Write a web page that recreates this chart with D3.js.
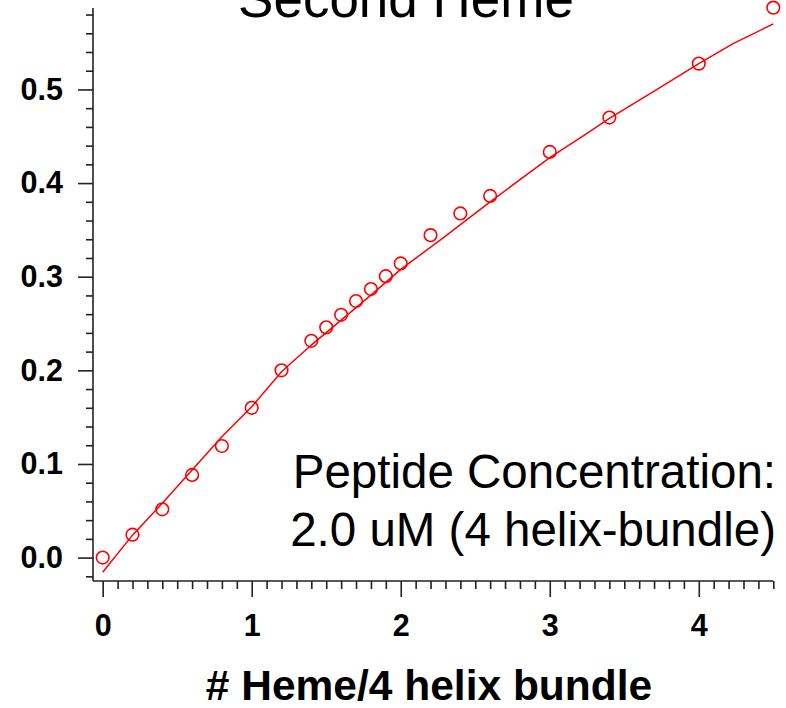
<!DOCTYPE html>
<html>
<head>
<meta charset="utf-8">
<script src="https://cdn.jsdelivr.net/npm/d3@7"></script>
<style>
  html, body { margin: 0; padding: 0; background: #fff; }
  svg { display: block; }
  text { font-family: "Liberation Sans", Arial, Helvetica, sans-serif; }
</style>
</head>
<body>
<svg id="chart" width="786" height="708"></svg>
<script>
// Heme titration: measured points
const hemeRatio = [0, 0.2, 0.4, 0.6, 0.8, 1.0, 1.2, 1.4, 1.5, 1.6, 1.7, 1.8, 1.9, 2.0, 2.2, 2.4, 2.6, 3.0, 3.4, 4.0, 4.5];
const signal    = [0.000, 0.0245, 0.0516, 0.0883, 0.1192, 0.160, 0.200, 0.2315, 0.2459, 0.2593, 0.274, 0.2868, 0.3006, 0.3142, 0.3444, 0.3676, 0.3863, 0.4333, 0.470, 0.5276, 0.5874];

// Fitted binding curve
const fitX = [0, 0.2, 0.4, 0.6, 0.8, 1.0, 1.2, 1.4, 1.6, 1.8, 2.0, 2.28, 2.6, 3.0, 3.24, 3.4, 3.72, 4.0, 4.23, 4.5];
const fitY = [-0.0156, 0.024, 0.058, 0.0936, 0.129, 0.161, 0.1985, 0.227, 0.2537, 0.2804, 0.3078, 0.341, 0.380, 0.4273, 0.452, 0.469, 0.500, 0.5276, 0.549, 0.570];

// Axis ticks
const xTickLabels = [0, 1, 2, 3, 4];
const yTickLabels = ["0.0", "0.1", "0.2", "0.3", "0.4", "0.5"];

const titleText = "Second Heme";
const noteLines = ["Peptide Concentration:", "2.0 uM (4 helix-bundle)"];
const xTitle = "# Heme/4 helix bundle";

const svg = d3.select("#chart");

const x = d3.scaleLinear().domain([-0.065, 4.5]).range([93, 773.3]);
const y = d3.scaleLinear().domain([-0.025, 0.587]).range([581, 8]);

const axisColor = "#222";

// ---- X axis
const xMinor = d3.range(1, 46).map(i => i / 10).filter(v => Math.abs(v - Math.round(v)) > 1e-9);
const gxMinor = svg.append("g").attr("transform", `translate(0,${y.range()[0]})`)
  .call(d3.axisBottom(x).tickValues(xMinor).tickSize(8).tickSizeOuter(0).tickFormat(""));
gxMinor.select(".domain").remove();

const gx = svg.append("g").attr("transform", `translate(0,${y.range()[0]})`)
  .call(d3.axisBottom(x).tickValues(xTickLabels).tickSize(16).tickSizeOuter(0).tickPadding(17).tickFormat(d3.format("d")));
gx.select(".domain").attr("d", `M${x.range()[0]},0H${x.range()[1]}`);

// ---- Y axis
const yMinor = d3.range(-1, 30).map(i => i / 50).filter(v => Math.abs(v * 10 - Math.round(v * 10)) > 1e-9);
const gyMinor = svg.append("g").attr("transform", `translate(${x.range()[0]},0)`)
  .call(d3.axisLeft(y).tickValues(yMinor).tickSize(7).tickSizeOuter(0).tickFormat(""));
gyMinor.select(".domain").remove();

const gy = svg.append("g").attr("transform", `translate(${x.range()[0]},0)`)
  .call(d3.axisLeft(y).tickValues(yTickLabels.map(Number)).tickSize(15).tickSizeOuter(0).tickPadding(15)
    .tickFormat((d, i) => yTickLabels[i]));
gy.select(".domain").attr("d", `M0,${y.range()[1]}V${y.range()[0]}`);

[gx, gxMinor, gy, gyMinor].forEach(g => {
  g.selectAll(".domain, line").attr("stroke", axisColor).attr("stroke-width", 1.6);
  g.selectAll("text")
    .attr("fill", "#000")
    .style("font-family", '"Liberation Sans", Arial, Helvetica, sans-serif')
    .style("font-weight", "bold")
    .style("font-size", "30.5px");
});

// ---- Fit curve
const fitLine = d3.line().x((d, i) => x(fitX[i])).y(d => y(d));
svg.append("path")
  .datum(fitY)
  .attr("d", fitLine)
  .attr("fill", "none")
  .attr("stroke", "#ff0000")
  .attr("stroke-width", 1.5);

// ---- Data circles
svg.append("g").selectAll("circle")
  .data(hemeRatio)
  .join("circle")
  .attr("cx", d => x(d))
  .attr("cy", (d, i) => y(signal[i]))
  .attr("r", 6.3)
  .attr("fill", "none")
  .attr("stroke", "#ff0000")
  .attr("stroke-width", 1.6);

// ---- Title (runs off the top edge)
svg.append("text")
  .attr("x", 406)
  .attr("y", 17)
  .attr("text-anchor", "middle")
  .style("font-size", "53px")
  .attr("fill", "#000")
  .text(titleText);

// ---- Annotation
svg.append("g").selectAll("text")
  .data(noteLines)
  .join("text")
  .attr("x", 776)
  .attr("y", (d, i) => 488 + i * 58)
  .attr("text-anchor", "end")
  .style("font-size", "47.5px")
  .attr("fill", "#000")
  .text(d => d);

// ---- X axis title
svg.append("text")
  .attr("x", 429)
  .attr("y", 700)
  .attr("text-anchor", "middle")
  .style("font-size", "42.5px")
  .style("font-weight", "bold")
  .attr("fill", "#000")
  .text(xTitle);
</script>
</body>
</html>
